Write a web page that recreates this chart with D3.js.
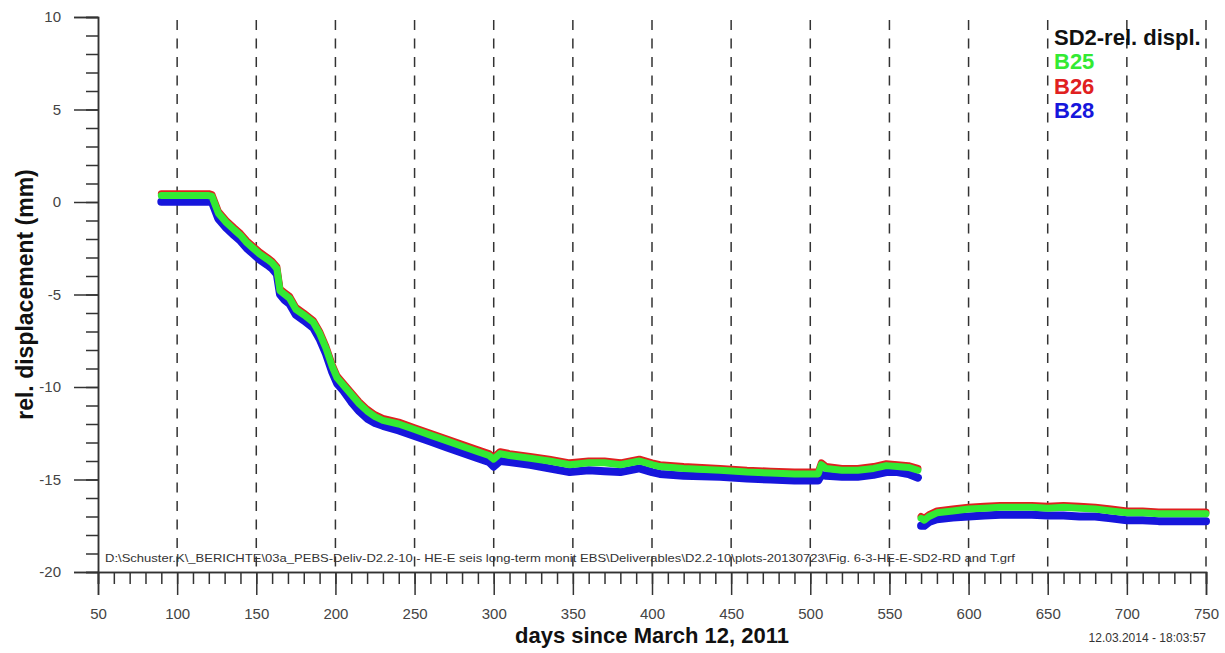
<!DOCTYPE html>
<html>
<head>
<meta charset="utf-8">
<title>SD2 rel. displacement</title>
<script src="https://d3js.org/d3.v7.min.js"></script>
<style>
  body { margin: 0; background: #fff; }
  svg { font-family: Arial, "Liberation Sans", sans-serif; }
</style>
</head>
<body>
<svg id="chart" width="1225" height="653"></svg>
<script>
// days since March 12, 2011 (null value = data gap)
const days = [90,95,100,105,110,115,120,122,126,131,
  136,140,144,148,152,157,160,163,165,168,
  171,175,180,186,190,194,198,201,205,210,
  215,220,225,230,240,250,260,270,280,290,
  297,300,304,310,323,335,348,360,370,380,
  392,400,405,420,443,460,475,490,500,505,
  507,510,520,530,540,548,555,562,568,569,
  570,572,575,580,590,600,610,620,630,640,
  650,660,670,680,690,700,710,720,730,740,
  750];

const b25 = [0.35,0.35,0.35,0.35,0.35,0.35,0.35,0.3,-0.6,-1.1,
  -1.5,-1.8,-2.2,-2.5,-2.8,-3.1,-3.3,-3.6,-4.8,-5.0,
  -5.2,-5.8,-6.1,-6.5,-7.1,-7.9,-8.9,-9.5,-9.9,-10.4,
  -10.9,-11.3,-11.6,-11.8,-12.0,-12.3,-12.6,-12.9,-13.2,-13.5,
  -13.7,-13.9,-13.6,-13.7,-13.85,-14.0,-14.2,-14.1,-14.1,-14.2,
  -14.0,-14.2,-14.3,-14.4,-14.5,-14.6,-14.65,-14.7,-14.7,-14.7,
  -14.2,-14.4,-14.5,-14.5,-14.4,-14.25,-14.3,-14.35,-14.5,null,
  -17.1,-17.2,-17.0,-16.8,-16.7,-16.6,-16.55,-16.5,-16.5,-16.5,
  -16.55,-16.5,-16.55,-16.6,-16.7,-16.8,-16.8,-16.85,-16.85,-16.85,
  -16.85];

const b26 = [0.45,0.45,0.45,0.45,0.45,0.45,0.45,0.4,-0.5,-1.0,
  -1.4,-1.7,-2.1,-2.4,-2.7,-3.0,-3.2,-3.5,-4.7,-4.9,
  -5.1,-5.7,-6.0,-6.4,-7.0,-7.8,-8.8,-9.4,-9.8,-10.3,
  -10.8,-11.2,-11.5,-11.7,-11.9,-12.2,-12.5,-12.8,-13.1,-13.4,
  -13.6,-13.8,-13.5,-13.6,-13.75,-13.9,-14.1,-14.0,-14.0,-14.1,
  -13.9,-14.1,-14.2,-14.3,-14.4,-14.5,-14.55,-14.6,-14.6,-14.6,
  -14.1,-14.3,-14.4,-14.4,-14.3,-14.15,-14.2,-14.25,-14.4,null,
  -17.0,-17.1,-16.9,-16.7,-16.6,-16.5,-16.45,-16.4,-16.4,-16.4,
  -16.45,-16.4,-16.45,-16.5,-16.6,-16.7,-16.7,-16.75,-16.75,-16.75,
  -16.75];

const b28 = [0.02,0.02,0.02,0.02,0.02,0.02,0.02,0.0,-0.9,-1.4,
  -1.8,-2.1,-2.5,-2.8,-3.1,-3.4,-3.6,-3.9,-5.0,-5.3,
  -5.5,-6.1,-6.4,-6.8,-7.4,-8.2,-9.2,-9.8,-10.2,-10.8,
  -11.3,-11.7,-11.95,-12.1,-12.35,-12.65,-12.95,-13.25,-13.55,-13.85,
  -14.05,-14.3,-14.0,-14.05,-14.2,-14.4,-14.6,-14.5,-14.55,-14.6,
  -14.4,-14.6,-14.7,-14.8,-14.85,-14.95,-15.0,-15.05,-15.05,-15.05,
  -14.75,-14.8,-14.85,-14.85,-14.75,-14.6,-14.6,-14.7,-14.9,null,
  -17.5,-17.5,-17.3,-17.15,-17.05,-17.0,-16.95,-16.9,-16.9,-16.9,
  -16.95,-16.95,-17.0,-17.0,-17.1,-17.2,-17.2,-17.25,-17.25,-17.25,
  -17.25];

const xMajor = [50,100,150,200,250,300,350,400,450,500,550,600,650,700,750];
const yMajor = [-20,-15,-10,-5,0,5,10];
const legendNames = ["B25","B26","B28"];

const svg = d3.select("#chart");
const x = d3.scaleLinear().domain([50, 750]).range([98, 1206]);
const y = d3.scaleLinear().domain([-20, 10]).range([572, 17]);
const axisColor = "#333";
const fontFam = "Arial, 'Liberation Sans', sans-serif";

// dashed vertical grid lines
svg.append("g").selectAll("line")
  .data(xMajor.filter(d => d > 50))
  .enter().append("line")
  .attr("x1", d => x(d)).attr("x2", d => x(d))
  .attr("y1", y(10) + 3).attr("y2", y(-20))
  .attr("stroke", axisColor).attr("stroke-width", 1.5)
  .attr("stroke-dasharray", "10,8.5");

// series (blue first, green on top)
const series = [
  { name: "B28", vals: b28, color: "#1616dc", w: 8 },
  { name: "B26", vals: b26, color: "#e02020", w: 7 },
  { name: "B25", vals: b25, color: "#33ea33", w: 7 }
];
const line = d3.line()
  .defined(d => d.v !== null)
  .x(d => x(d.day))
  .y(d => y(d.v));

series.forEach(s => {
  const pts = days.map((d, i) => ({ day: d, v: s.vals[i] }));
  svg.append("path")
    .datum(pts)
    .attr("d", line)
    .attr("fill", "none")
    .attr("stroke", s.color)
    .attr("stroke-width", s.w)
    .attr("stroke-linejoin", "round")
    .attr("stroke-linecap", "round");
});

// y axis (hyphen minus like the original)
const yAxis = svg.append("g").attr("transform", `translate(${x(50)},0)`);
yAxis.call(d3.axisLeft(y).tickValues(d3.range(-20, 11, 1)).tickSize(12).tickFormat(""));
yAxis.append("g").call(d3.axisLeft(y).tickValues(yMajor).tickSize(24).tickPadding(13).tickFormat(d => String(d)));
yAxis.selectAll("path.domain").attr("stroke", axisColor).attr("stroke-width", 1.5);
yAxis.selectAll(".tick line").attr("stroke", axisColor).attr("stroke-width", 1.5);
yAxis.selectAll(".tick text")
  .attr("fill", "#444").style("font-size", "15px").style("font-family", fontFam);

// x axis
const xAxis = svg.append("g").attr("transform", `translate(0,${y(-20)})`);
xAxis.call(d3.axisBottom(x).tickValues(d3.range(50, 751, 10)).tickSize(12).tickFormat(""));
xAxis.append("g").call(d3.axisBottom(x).tickValues(xMajor).tickSize(23).tickPadding(13).tickFormat(d => String(d)));
xAxis.selectAll("path.domain").attr("stroke", axisColor).attr("stroke-width", 1.5);
xAxis.selectAll(".tick line").attr("stroke", axisColor).attr("stroke-width", 1.5);
xAxis.selectAll(".tick text")
  .attr("fill", "#444").style("font-size", "15px").style("font-family", fontFam);

// axis titles
svg.append("text")
  .attr("x", (x(50) + x(750)) / 2).attr("y", 643)
  .attr("text-anchor", "middle")
  .style("font-size", "22px").style("font-weight", "bold")
  .attr("fill", "#111")
  .text("days since March 12, 2011");

svg.append("text")
  .attr("transform", `translate(33,${(y(10) + y(-20)) / 2}) rotate(-90)`)
  .attr("text-anchor", "middle")
  .style("font-size", "23px").style("font-weight", "bold")
  .attr("fill", "#111")
  .text("rel. displacement (mm)");

// legend
const legend = svg.append("g").attr("transform", "translate(1054,0)");
legend.append("text").attr("y", 45)
  .style("font-size", "22px").style("font-weight", "bold").attr("fill", "#111")
  .text("SD2-rel. displ.");
const legendColors = { B25: "#33ea33", B26: "#e02020", B28: "#1616dc" };
legend.selectAll("text.item")
  .data(legendNames)
  .enter().append("text")
  .attr("class", "item")
  .attr("y", (d, i) => 69 + i * 24.5)
  .style("font-size", "22px").style("font-weight", "bold")
  .attr("fill", d => legendColors[d])
  .text(d => d);

// file path and timestamp
svg.append("text")
  .attr("x", 105).attr("y", 562)
  .attr("textLength", 910).attr("lengthAdjust", "spacingAndGlyphs")
  .style("font-size", "11.5px").attr("fill", "#333")
  .text("D:\\Schuster.K\\_BERICHTE\\03a_PEBS-Deliv-D2.2-10 - HE-E seis long-term monit EBS\\Deliverables\\D2.2-10\\plots-20130723\\Fig. 6-3-HE-E-SD2-RD and T.grf");

svg.append("text")
  .attr("x", 1206).attr("y", 642)
  .attr("text-anchor", "end")
  .style("font-size", "12px").attr("fill", "#333")
  .text("12.03.2014 - 18:03:57");
</script>
</body>
</html>
